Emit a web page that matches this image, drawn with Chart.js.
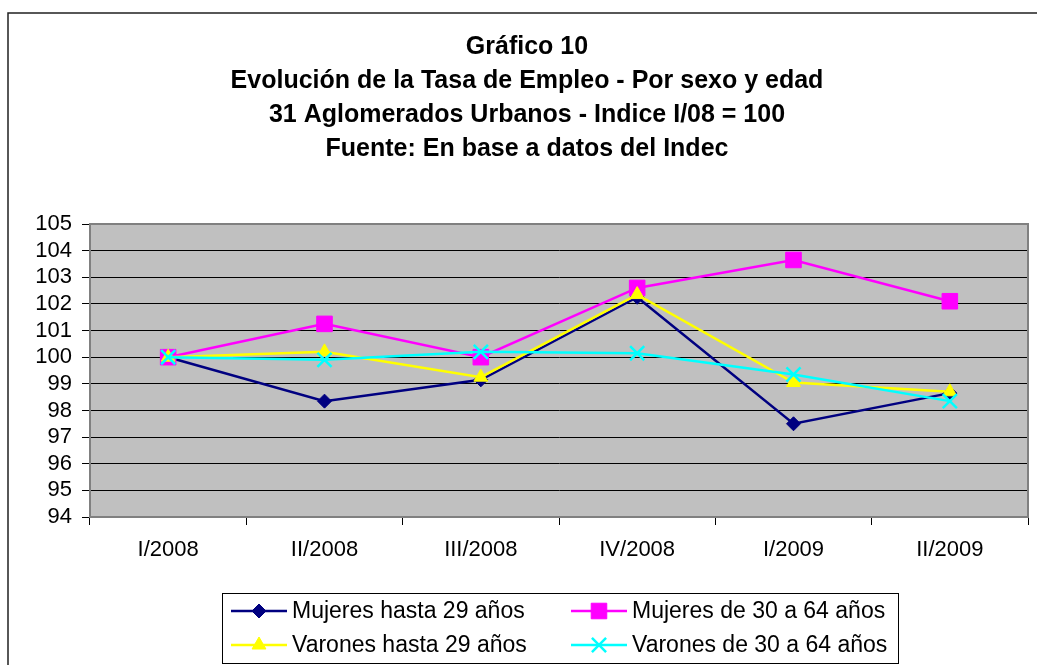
<!DOCTYPE html>
<html>
<head>
<meta charset="utf-8">
<script src="https://cdn.jsdelivr.net/npm/chart.js@4"></script>
<style>
  html, body { margin: 0; padding: 0; background: #fff; }
  canvas { display: block; }
</style>
</head>
<body>
<canvas id="grafico" width="1037" height="665"></canvas>
<script>
const periodos = ["I/2008", "II/2008", "III/2008", "IV/2008", "I/2009", "II/2009"];
const mujeresHasta29 = [100, 98.35, 99.15, 102.25, 97.5, 98.65];
const mujeres30a64 = [100, 101.25, 100.0, 102.6, 103.65, 102.1];
const varonesHasta29 = [100, 100.2, 99.25, 102.35, 99.05, 98.7];
const varones30a64 = [100, 99.9, 100.2, 100.15, 99.35, 98.35];
const ticksY = [94, 95, 96, 97, 98, 99, 100, 101, 102, 103, 104, 105];

const titulo = [
    "Gráfico 10",
    "Evolución de la Tasa de Empleo - Por sexo y edad",
    "31 Aglomerados Urbanos - Indice I/08 = 100",
    "Fuente: En base a datos del Indec"
];

const fuente = "'Liberation Sans', Arial, sans-serif";

// fondo gris del area de trazado + marco exterior
const fondoPlugin = {
    id: "fondo",
    beforeDraw(chart) {
        const ctx = chart.ctx;
        const a = chart.chartArea;
        ctx.save();
        ctx.fillStyle = "#ffffff";
        ctx.fillRect(0, 0, chart.width, chart.height);
        ctx.strokeStyle = "#202020";
        ctx.lineWidth = 1.5;
        ctx.beginPath();
        ctx.moveTo(8, chart.height);
        ctx.lineTo(8, 13);
        ctx.lineTo(chart.width, 13);
        ctx.stroke();
        ctx.fillStyle = "#c0c0c0";
        ctx.fillRect(a.left, a.top, a.right - a.left, a.bottom - a.top);
        ctx.restore();
    },
    afterDatasetsDraw(chart) {
        const ctx = chart.ctx;
        const a = chart.chartArea;
        ctx.save();
        ctx.strokeStyle = "#808080";
        ctx.lineWidth = 2;
        ctx.beginPath();
        ctx.moveTo(a.left, a.top);
        ctx.lineTo(a.right, a.top);
        ctx.lineTo(a.right, a.bottom);
        ctx.stroke();
        ctx.restore();
    }
};

// leyenda en recuadro, dos columnas
const leyendaPlugin = {
    id: "leyendaCaja",
    afterDraw(chart) {
        const ctx = chart.ctx;
        const box = { x: 222, y: 593, w: 676, h: 70 };
        ctx.save();
        ctx.fillStyle = "#ffffff";
        ctx.fillRect(box.x, box.y, box.w, box.h);
        ctx.strokeStyle = "#000000";
        ctx.lineWidth = 1;
        ctx.strokeRect(box.x + 0.5, box.y + 0.5, box.w, box.h);
        const cols = [231, 571];
        const rows = [611, 645];
        chart.data.datasets.forEach((ds, i) => {
            const x = cols[i % 2];
            const y = rows[Math.floor(i / 2)];
            ctx.strokeStyle = ds.borderColor;
            ctx.lineWidth = 2.5;
            ctx.beginPath();
            ctx.moveTo(x, y);
            ctx.lineTo(x + 56, y);
            ctx.stroke();
            ctx.fillStyle = ds.borderColor;
            ctx.strokeStyle = ds.borderColor;
            ctx.lineWidth = ds.pointBorderWidth || 1;
            Chart.helpers.drawPoint(ctx, {
                pointStyle: ds.pointStyle,
                radius: ds.pointRadius,
                borderWidth: ds.pointBorderWidth || 1,
                rotation: 0
            }, x + 28, y);
            ctx.fillStyle = "#000000";
            ctx.font = "23px " + fuente;
            ctx.textBaseline = "middle";
            ctx.textAlign = "left";
            ctx.fillText(ds.label, x + 61, y + 1);
        });
        ctx.restore();
    }
};

function serie(label, data, color, estilo, radio, orden) {
    return {
        label: label,
        data: data,
        borderColor: color,
        backgroundColor: color,
        pointBackgroundColor: color,
        pointBorderColor: color,
        borderWidth: 2.5,
        pointStyle: estilo,
        pointRadius: radio,
        pointHoverRadius: radio,
        pointBorderWidth: estilo === "crossRot" ? 2.5 : 1,
        tension: 0,
        fill: false,
        order: orden
    };
}

new Chart(document.getElementById("grafico"), {
    type: "line",
    data: {
        labels: periodos,
        datasets: [
            serie("Mujeres hasta 29 años", mujeresHasta29, "#000080", "rectRot", 7, 3),
            serie("Mujeres de 30 a 64 años", mujeres30a64, "#ff00ff", "rect", 11, 2),
            serie("Varones hasta 29 años", varonesHasta29, "#ffff00", "triangle", 8, 1),
            serie("Varones de 30 a 64 años", varones30a64, "#00ffff", "crossRot", 10, 0)
        ]
    },
    options: {
        responsive: false,
        animation: false,
        devicePixelRatio: 1,
        layout: { autoPadding: false, padding: { top: 0, left: 26, right: 9, bottom: 0 } },
        plugins: {
            legend: { display: false },
            tooltip: { enabled: false },
            title: {
                display: true,
                text: titulo,
                color: "#000000",
                font: { family: fuente, size: 25, weight: "bold", lineHeight: 34 / 25 },
                padding: { top: 30, bottom: 58 }
            }
        },
        scales: {
            x: {
                offset: true,
                grid: {
                    offset: true,
                    drawOnChartArea: false,
                    color: "#000000",
                    tickLength: 8
                },
                border: { color: "#808080", width: 2 },
                ticks: {
                    color: "#000000",
                    font: { family: fuente, size: 22 },
                    padding: 12,
                    maxRotation: 0
                },
                afterFit(scale) {
                    scale.height = 148;
                    scale.paddingLeft = 0;
                    scale.paddingRight = 0;
                }
            },
            y: {
                min: ticksY[0],
                max: ticksY[ticksY.length - 1],
                afterBuildTicks(scale) {
                    scale.ticks = ticksY.map(v => ({ value: v }));
                },
                grid: { color: "#000000", lineWidth: 1, tickLength: 8 },
                border: { color: "#808080", width: 2 },
                ticks: {
                    color: "#000000",
                    font: { family: fuente, size: 22 },
                    padding: 10,
                    autoSkip: false,
                    stepSize: 1
                },
                afterFit(scale) { scale.width = 64; }
            }
        }
    },
    plugins: [fondoPlugin, leyendaPlugin]
});
</script>
</body>
</html>
